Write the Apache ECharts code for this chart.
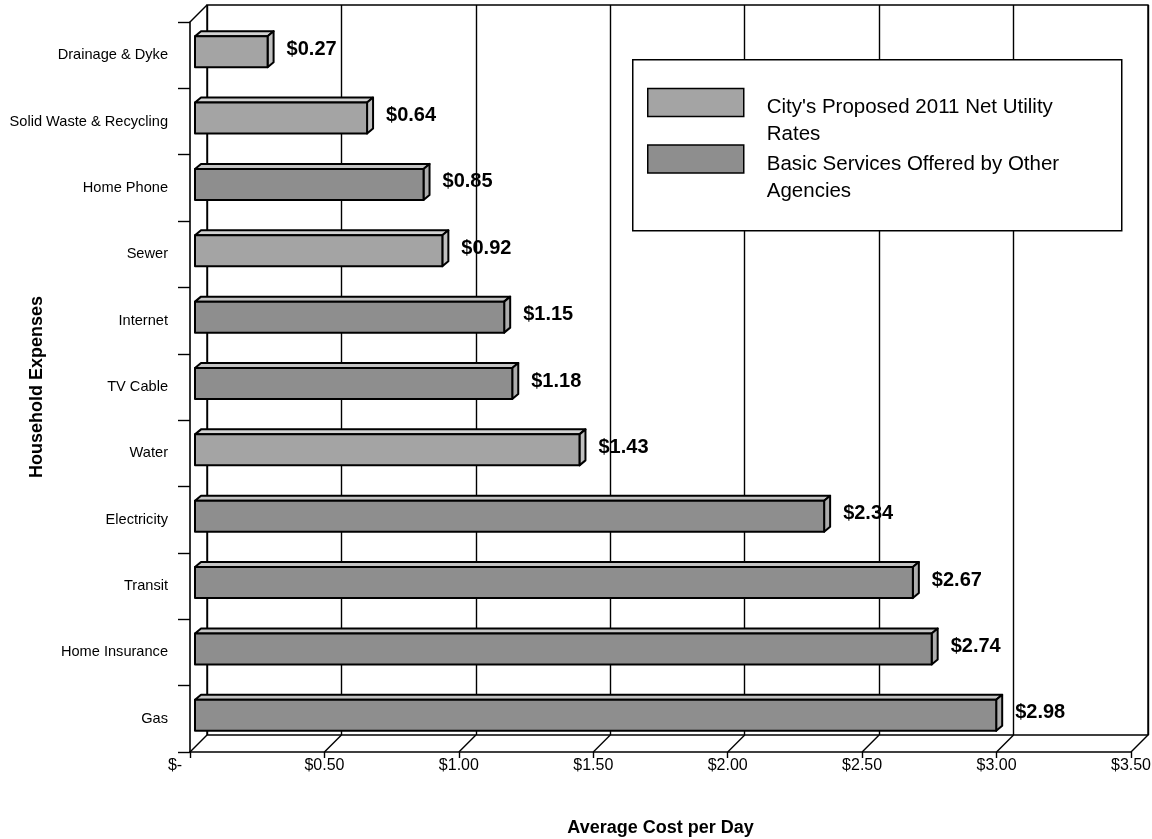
<!DOCTYPE html>
<html><head><meta charset="utf-8">
<script src="https://cdn.jsdelivr.net/npm/echarts@6/dist/echarts.min.js"></script>
<style>html,body{margin:0;padding:0;background:#fff}#c{width:1152px;height:839px}</style>
</head><body><div id="c"></div>
<script>
const categories = ['Drainage & Dyke','Solid Waste & Recycling','Home Phone','Sewer','Internet','TV Cable','Water','Electricity','Transit','Home Insurance','Gas'];
const cityValues  = [0.27, 0.64, null, 0.92, null, null, 1.43, null, null, null, null];
const otherValues = [null, null, 0.85, null, 1.15, 1.18, null, 2.34, 2.67, 2.74, 2.98];
const xTicks = [0, 0.5, 1, 1.5, 2, 2.5, 3, 3.5];
const xTickLabels = ['$-', '$0.50', '$1.00', '$1.50', '$2.00', '$2.50', '$3.00', '$3.50'];
const seriesNames = ["City's Proposed 2011 Net Utility Rates", 'Basic Services Offered by Other Agencies'];
const legendLines = [["City's Proposed 2011 Net Utility", 'Rates'], ['Basic Services Offered by Other', 'Agencies']];

const FONT = "'Liberation Sans', Arial, sans-serif";
const cityFill = '#a4a4a4', otherFill = '#8e8e8e';

function toData(arr) {
  return arr.map((v, i) => [v, i]).filter(d => d[0] != null);
}

function barRenderer(front, top, side) {
  return function (params, api) {
    const v = api.value(0);
    const ci = api.value(1);
    const p0 = api.coord([0, ci]);
    const p1 = api.coord([v, ci]);
    const ox = 5, oy = -3.5, h = 31, dx = 6, dy = 5;
    const x0 = p0[0] + ox, x1 = p1[0] + ox;
    const yT = p0[1] + oy - h / 2, yB = yT + h;
    const ls = { stroke: '#000', lineWidth: 2, lineJoin: 'round' };
    return {
      type: 'group',
      children: [
        { type: 'polygon', shape: { points: [[x0, yT], [x0 + dx, yT - dy], [x1 + dx, yT - dy], [x1, yT]] }, style: Object.assign({ fill: top }, ls) },
        { type: 'polygon', shape: { points: [[x1, yT], [x1 + dx, yT - dy], [x1 + dx, yB - dy], [x1, yB]] }, style: Object.assign({ fill: side }, ls) },
        { type: 'rect', shape: { x: x0, y: yT, width: x1 - x0, height: h }, style: Object.assign({ fill: front }, ls) },
        { type: 'text', x: x1 + dx + 13, y: p0[1] - 6, style: { text: '$' + v.toFixed(2), font: 'bold 20px ' + FONT, fill: '#000', align: 'left', verticalAlign: 'middle' } }
      ]
    };
  };
}

function frameRenderer(params, api) {
  const v = api.value(0);
  const first = api.coord([v, 0]);
  const last = api.coord([v, categories.length - 1]);
  const band = api.size([0, 1])[1];
  const yB = last[1] + band / 2;
  const x = first[0];
  const ls = { stroke: '#000', lineWidth: 1.4 };
  const children = [
    { type: 'line', shape: { x1: x, y1: yB, x2: x + 17, y2: yB - 17 }, style: ls }
  ];
  if (params.dataIndex === 0) {
    const yT = first[1] - band / 2;
    children.push({ type: 'line', shape: { x1: x, y1: yT, x2: x + 17, y2: yT - 17 }, style: ls });
  }
  return { type: 'group', children: children };
}

const chart = echarts.init(document.getElementById('c'), null, { renderer: 'canvas' });
chart.setOption({
  animation: false,
  backgroundColor: '#fff',
  grid: [
    { left: 190, top: 22, width: 941, height: 730, show: false, containLabel: false, outerBoundsMode: 'none' },
    { left: 207, top: 5, width: 941, height: 730, show: true, borderColor: '#000', borderWidth: 1.4, backgroundColor: 'transparent', containLabel: false, outerBoundsMode: 'none' }
  ],
  xAxis: [
    {
      gridIndex: 0, type: 'value', min: 0, max: 3.5, interval: 0.5,
      axisLine: { show: true, lineStyle: { color: '#000', width: 1.6 } },
      axisTick: { show: true, length: 6, lineStyle: { color: '#000', width: 1.4 } },
      splitLine: { show: false },
      axisLabel: {
        margin: 6, color: '#000', fontFamily: FONT, fontSize: 16,
        formatter: function (val) {
          const i = xTicks.indexOf(val);
          const t = i >= 0 ? xTickLabels[i] : '';
          return val === 0 ? '{z|' + t + '}' : t;
        },
        rich: { z: { fontFamily: FONT, fontSize: 16, color: '#000', padding: [0, 30, 0, 0] } }
      },
      name: 'Average Cost per Day', nameLocation: 'middle', nameGap: 67, nameMoveOverlap: false,
      nameTextStyle: { fontFamily: FONT, fontWeight: 'bold', fontSize: 18, color: '#000' }
    },
    {
      gridIndex: 1, type: 'value', min: 0, max: 3.5, interval: 0.5,
      axisLine: { show: false }, axisTick: { show: false }, axisLabel: { show: false },
      splitLine: { show: true, lineStyle: { color: '#000', width: 1.4 } }
    }
  ],
  yAxis: [
    {
      gridIndex: 0, type: 'category', data: categories, inverse: true,
      axisLine: { show: true, lineStyle: { color: '#000', width: 1.6 } },
      axisTick: { show: true, length: 12, lineStyle: { color: '#000', width: 1.4 } },
      axisLabel: { margin: 22, color: '#000', fontFamily: FONT, fontSize: 14.6 },
      splitLine: { show: false },
      name: 'Household Expenses', nameLocation: 'middle', nameGap: 144, nameRotate: 90, nameMoveOverlap: false,
      nameTextStyle: { fontFamily: FONT, fontWeight: 'bold', fontSize: 18, color: '#000' }
    },
    {
      gridIndex: 1, type: 'category', data: categories, inverse: true,
      axisLine: { show: false }, axisTick: { show: false }, axisLabel: { show: false },
      splitLine: { show: false }
    }
  ],
  legend: {
    data: seriesNames, orient: 'vertical', left: 632, top: 70.5,
    padding: [0, 0, 0, 15], itemWidth: 96, itemHeight: 28, itemGap: -18,
    icon: 'rect', selectedMode: false,
    itemStyle: { borderColor: '#000', borderWidth: 1.5 },
    textStyle: {
      fontFamily: FONT, fontSize: 20.5, color: '#000', padding: [0, 0, 0, 18],
      rich: {
        e: { lineHeight: 37, fontSize: 10 },
        t: { fontFamily: FONT, fontSize: 20.5, color: '#000', lineHeight: 27 }
      }
    },
    formatter: function (n) {
      const lines = legendLines[seriesNames.indexOf(n)];
      return '{e| }\n{t|' + lines[0] + '}\n{t|' + lines[1] + '}';
    }
  },
  graphic: [
    { type: 'rect', left: 632, top: 59, z: 3, shape: { width: 489, height: 171 }, style: { fill: '#fff', stroke: '#000', lineWidth: 1.5 } }
  ],
  series: [
    {
      type: 'custom', name: 'frame', xAxisIndex: 0, yAxisIndex: 0, silent: true,
      data: xTicks.map(v => [v, 0]), encode: { x: 0, y: 1 },
      renderItem: frameRenderer, z: 1
    },
    {
      type: 'custom', name: seriesNames[0], xAxisIndex: 0, yAxisIndex: 0,
      itemStyle: { color: cityFill },
      data: toData(cityValues), encode: { x: 0, y: 1 },
      renderItem: barRenderer(cityFill, '#d2d2d2', '#c0c0c0'), z: 2
    },
    {
      type: 'custom', name: seriesNames[1], xAxisIndex: 0, yAxisIndex: 0,
      itemStyle: { color: otherFill },
      data: toData(otherValues), encode: { x: 0, y: 1 },
      renderItem: barRenderer(otherFill, '#c4c4c4', '#adadad'), z: 2
    }
  ]
});
</script>
</body></html>
